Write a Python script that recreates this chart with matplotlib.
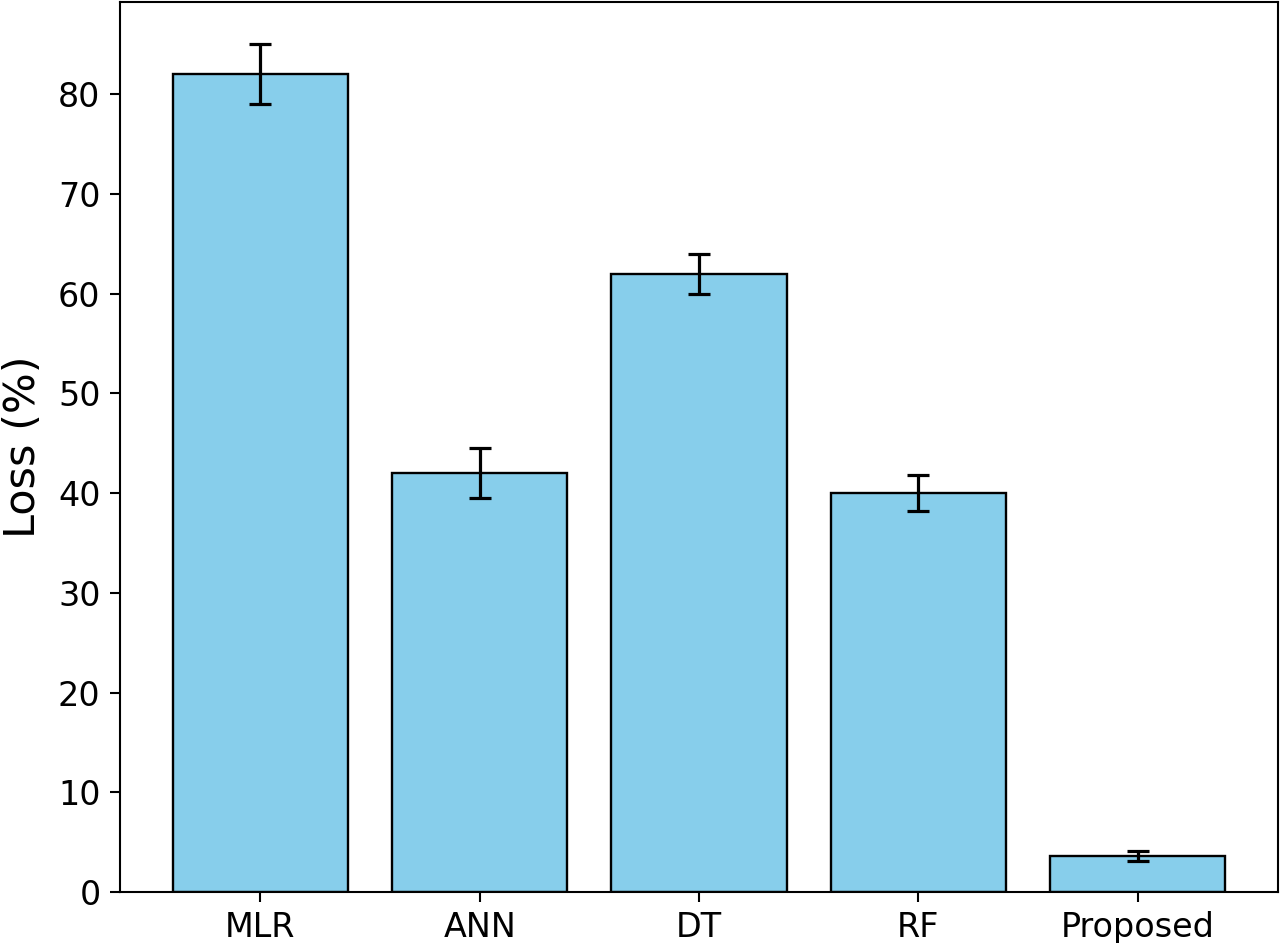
import matplotlib.pyplot as plt
import numpy as np

# model names and their loss values
models = ['MLR', 'ANN', 'DT', 'RF', 'Proposed']
loss = [82.0, 42.0, 62.0, 40.0, 3.6]
loss_err = [3.0, 2.5, 2.0, 1.8, 0.5]

fig = plt.figure(figsize=(12.8, 9.43), dpi=100)
ax = fig.add_axes([120 / 1280, 51 / 943, 1158 / 1280, 890 / 943])

x = np.arange(len(models))
ax.bar(x, loss, yerr=loss_err, color='skyblue', edgecolor='black', linewidth=1.7,
       width=0.8, capsize=8,
       error_kw=dict(elinewidth=2.3, capthick=2.3, ecolor='black'))

ax.set_xticks(x)
ax.set_xticklabels(models)
ax.set_ylabel('Loss (%)', fontsize=31, labelpad=10)
ax.tick_params(axis='both', labelsize=24, length=7, width=1.5, pad=7)
for s in ax.spines.values():
    s.set_linewidth(1.5)

fig.savefig('out.png', dpi=100)
